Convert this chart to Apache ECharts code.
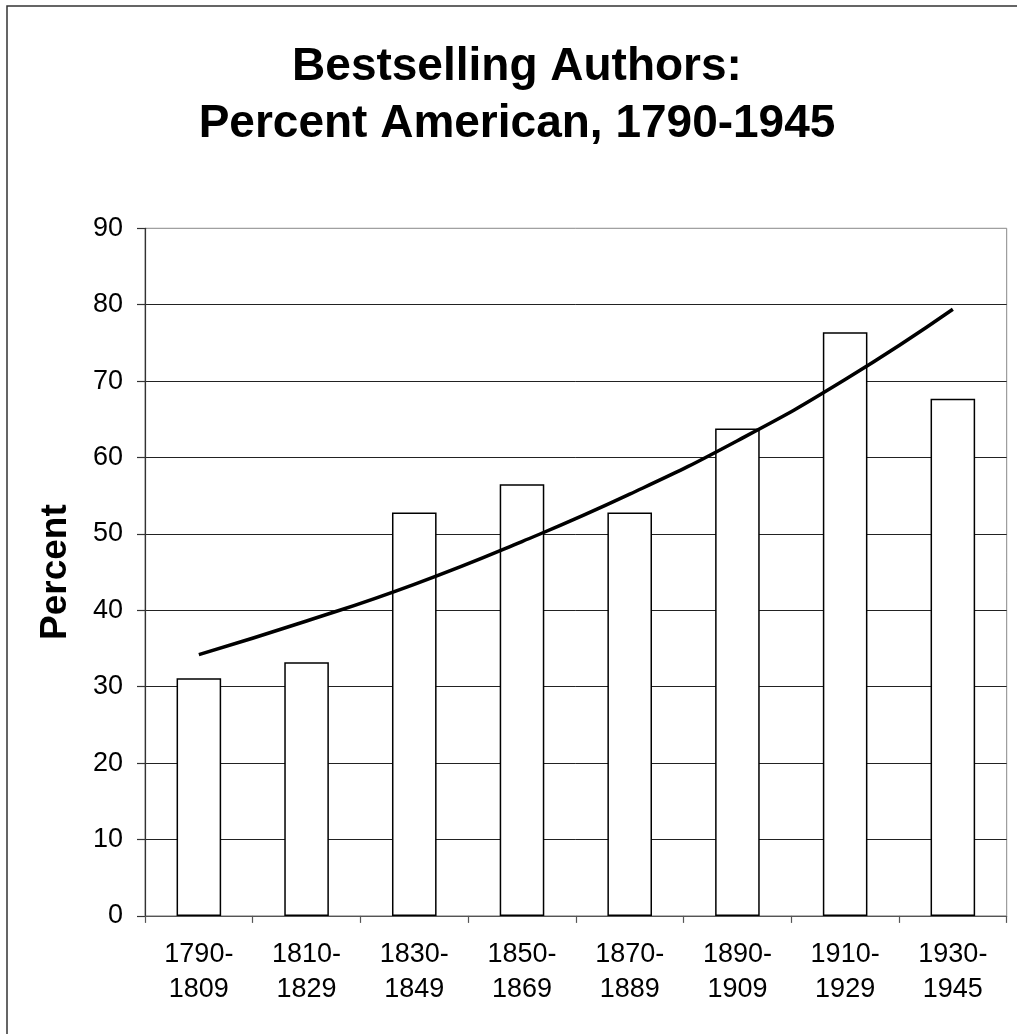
<!DOCTYPE html>
<html>
<head>
<meta charset="utf-8">
<script src="https://cdn.jsdelivr.net/npm/echarts@6/dist/echarts.min.js"></script>
<style>
  html, body { margin: 0; padding: 0; background: #fff; }
  #chart { width: 1017px; height: 1034px; }
</style>
</head>
<body>
<div id="chart"></div>
<script>
const categories = ['1790-\n1809', '1810-\n1829', '1830-\n1849', '1850-\n1869', '1870-\n1889', '1890-\n1909', '1910-\n1929', '1930-\n1945'];
const percentAmerican = [31.1, 33.2, 52.8, 56.5, 52.8, 63.8, 76.4, 67.7];
const trendValues = [34.2, 38.6, 43.4, 49.0, 55.2, 62.2, 70.2, 79.4];
const yTicks = { min: 0, max: 90, interval: 10 };
const titleText = 'Bestselling Authors:\nPercent American, 1790-1945';
const yName = 'Percent';

const FONT = "'Liberation Sans', Arial, Helvetica, sans-serif";
const chart = echarts.init(document.getElementById('chart'), null, { renderer: 'canvas' });

chart.setOption({
  animation: false,
  backgroundColor: '#ffffff',
  title: {
    text: titleText,
    left: 517,
    top: 39,
    padding: 0,
    textAlign: 'center',
    textStyle: {
      fontFamily: FONT,
      fontSize: 46,
      fontWeight: 'bold',
      color: '#000',
      lineHeight: 57
    }
  },
  graphic: [{
    type: 'rect',
    shape: { x: 7, y: 6, width: 1300, height: 1300 },
    style: { fill: 'none', stroke: '#333', lineWidth: 1.5 },
    silent: true,
    z: 100
  }],
  grid: {
    left: 145,
    right: 10.3,
    top: 228.3,
    bottom: 118.1,
    show: true,
    borderColor: '#888',
    borderWidth: 1,
    backgroundColor: 'transparent'
  },
  xAxis: {
    type: 'category',
    data: categories,
    boundaryGap: true,
    axisLine: { show: true, lineStyle: { color: '#555', width: 1.2 } },
    axisTick: { show: true, inside: false, length: 7, alignWithLabel: false, lineStyle: { color: '#555', width: 1.2 } },
    axisLabel: {
      margin: 21,
      fontFamily: FONT,
      fontSize: 27,
      lineHeight: 35,
      color: '#000'
    },
    splitLine: { show: false }
  },
  yAxis: {
    type: 'value',
    min: yTicks.min,
    max: yTicks.max,
    interval: yTicks.interval,
    name: yName,
    nameLocation: 'middle',
    nameGap: 71,
    nameTextStyle: {
      fontFamily: FONT,
      fontSize: 37,
      fontWeight: 'bold',
      color: '#000'
    },
    axisLine: { show: true, lineStyle: { color: '#333', width: 1.2 } },
    axisTick: { show: true, inside: false, length: 8, lineStyle: { color: '#333', width: 1.2 } },
    axisLabel: {
      margin: 22,
      fontFamily: FONT,
      fontSize: 27,
      color: '#000'
    },
    splitLine: { show: true, showMaxLine: false, lineStyle: { color: '#222', width: 1 } }
  },
  series: [
    {
      type: 'bar',
      data: percentAmerican,
      barWidth: '41.4%',
      itemStyle: { color: '#ffffff', borderColor: '#000', borderWidth: 1.5 },
      z: 2
    },
    {
      type: 'line',
      data: trendValues,
      smooth: true,
      symbol: 'none',
      lineStyle: { color: '#000', width: 3.5 },
      z: 5
    }
  ]
});
</script>
</body>
</html>
